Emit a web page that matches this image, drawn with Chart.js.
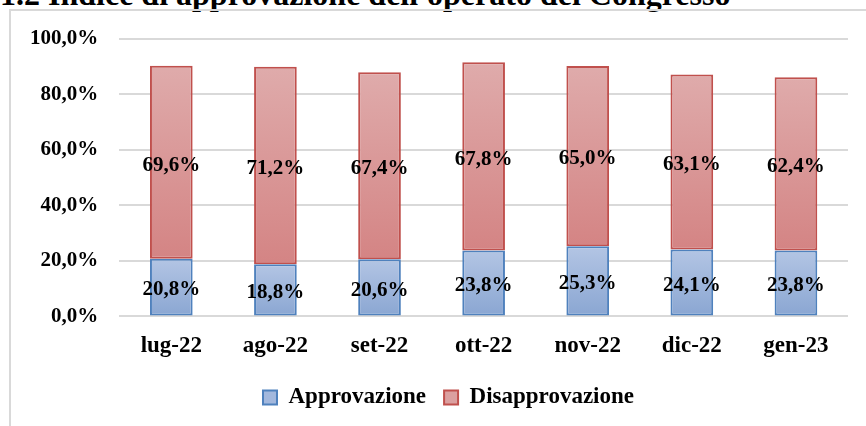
<!DOCTYPE html>
<html>
<head>
<meta charset="utf-8">
<script src="https://cdn.jsdelivr.net/npm/chart.js@4.4.0/dist/chart.umd.min.js"></script>
<style>
  html, body { margin: 0; padding: 0; background: #fff; }
  body { width: 866px; height: 426px; position: relative; overflow: hidden; }
  #title {
    position: absolute; left: 0; top: -22px;
    font: bold 32px "Liberation Serif", serif; color: #000; white-space: nowrap;
    line-height: 32px;
  }
  #frame {
    position: absolute; left: 9px; top: 9px; width: 880px; height: 440px;
    border: 2px solid #d9d9d9; box-sizing: border-box;
  }
  #chart { position: absolute; left: 0; top: 0; }
</style>
</head>
<body>
<div id="title">1.2 Indice di approvazione dell'operato del Congresso</div>
<div id="frame"></div>
<canvas id="chart" width="866" height="426"></canvas>
<script>
const months = ['lug-22', 'ago-22', 'set-22', 'ott-22', 'nov-22', 'dic-22', 'gen-23'];
const approvazione = [20.8, 18.8, 20.6, 23.8, 25.3, 24.1, 23.8];
const disapprovazione = [69.6, 71.2, 67.4, 67.8, 65.0, 63.1, 62.4];
const yTicks = [0, 20, 40, 60, 80, 100];

const serif = '"Liberation Serif", serif';
const fmt = v => v.toFixed(1).replace('.', ',') + '%';

// gradient per segment, lighter at the top
function segmentFill(top, bottom, fallback, below) {
  return ctx => {
    const chart = ctx.chart;
    const y = chart.scales.y;
    if (!chart.chartArea || !y || ctx.dataIndex == null) return fallback;
    const base = below ? below[ctx.dataIndex] : 0;
    const val = ctx.dataset.data[ctx.dataIndex];
    const y0 = y.getPixelForValue(base + val);
    const y1 = y.getPixelForValue(base);
    if (!isFinite(y0) || !isFinite(y1)) return fallback;
    const g = chart.ctx.createLinearGradient(0, y0, 0, y1);
    g.addColorStop(0, top);
    g.addColorStop(1, bottom);
    return g;
  };
}

const segmentLabels = {
  id: 'segmentLabels',
  afterDatasetsDraw(chart) {
    const c = chart.ctx;
    c.save();
    c.font = 'bold 21px ' + serif;
    c.fillStyle = '#000';
    c.textAlign = 'center';
    c.textBaseline = 'middle';
    chart.data.datasets.forEach((ds, di) => {
      chart.getDatasetMeta(di).data.forEach((bar, i) => {
        c.fillText(fmt(ds.data[i]), bar.x, (bar.y + bar.base) / 2 + 3);
      });
    });
    c.restore();
  }
};

// legend sits a bit right of the canvas centre
const legendShift = {
  id: 'legendShift',
  afterLayout(chart) {
    if (chart.legend) { chart.legend.left += 20; chart.legend.right += 20; }
  }
};

new Chart(document.getElementById('chart'), {
  type: 'bar',
  data: {
    labels: months,
    datasets: [{
      label: 'Approvazione',
      data: approvazione,
      backgroundColor: segmentFill('#b3c5e4', '#8aa6d2', '#9fb5dc'),
      borderColor: '#4f81bd',
      borderWidth: 2,
      borderSkipped: false
    }, {
      label: 'Disapprovazione',
      data: disapprovazione,
      backgroundColor: segmentFill('#dfabab', '#d48484', '#da9999', approvazione),
      borderColor: '#c0504d',
      borderWidth: 2,
      borderSkipped: false
    }]
  },
  options: {
    responsive: false,
    animation: false,
    devicePixelRatio: 1,
    layout: { padding: { left: 9, right: 18, top: 39, bottom: 7 } },
    datasets: { bar: { categoryPercentage: 1, barPercentage: 0.41 } },
    plugins: {
      tooltip: { enabled: false },
      legend: {
        position: 'bottom',
        labels: {
          color: '#000',
          font: { family: serif, size: 23, weight: 'bold' },
          boxWidth: 14,
          boxHeight: 14,
          padding: 18,
          generateLabels: chart => [
            { text: 'Approvazione', fillStyle: '#a3b8dd', strokeStyle: '#4f81bd', lineWidth: 2, datasetIndex: 0 },
            { text: 'Disapprovazione', fillStyle: '#dba0a0', strokeStyle: '#c0504d', lineWidth: 2, datasetIndex: 1 }
          ]
        }
      }
    },
    scales: {
      x: {
        stacked: true,
        grid: { display: false },
        border: { display: false },
        ticks: { color: '#000', font: { family: serif, size: 23, weight: 'bold' }, padding: 8, maxRotation: 0 }
      },
      y: {
        stacked: true,
        min: 0,
        max: 100,
        afterBuildTicks: s => { s.ticks = yTicks.map(v => ({ value: v })); },
        grid: { color: '#d9d9d9', lineWidth: 2, drawTicks: false },
        border: { display: false },
        ticks: { color: '#000', font: { family: serif, size: 21, weight: 'bold' }, padding: 21, callback: v => fmt(v) }
      }
    }
  },
  plugins: [segmentLabels, legendShift]
});
</script>
</body>
</html>
